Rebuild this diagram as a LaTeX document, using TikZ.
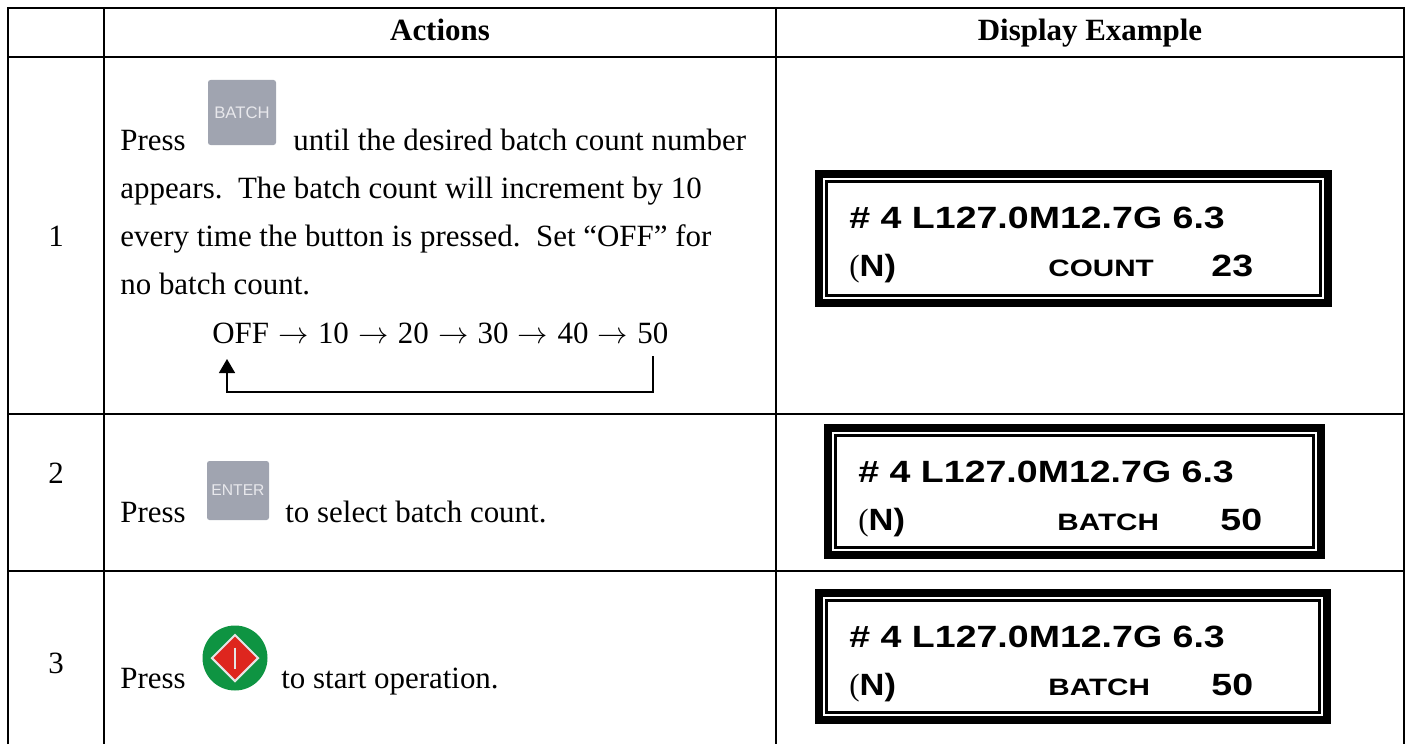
\documentclass[tikz,border=0pt]{standalone}
\usepackage{fontspec}
\setmainfont{Liberation Serif}
\newfontfamily\lcdfont{Liberation Sans}
\usetikzlibrary{arrows.meta, positioning, shapes.geometric}

\definecolor{keygrey}{RGB}{160,164,176}
\definecolor{keytext}{RGB}{232,232,236}
\definecolor{startgreen}{RGB}{14,148,66}
\definecolor{startred}{RGB}{222,38,30}
\tikzset{
  cell/.style={anchor=base west, inner sep=0pt, font=\fontsize{17.6}{20}\selectfont},
  rownum/.style={anchor=base, inner sep=0pt, font=\fontsize{17.6}{20}\selectfont},
  head/.style={anchor=base, inner sep=0pt, font=\fontsize{17.6}{20}\selectfont\bfseries},
  rule/.style={black, line width=0.04cm},
  keycap/.style={rectangle, rounded corners=0.05cm, fill=keygrey, inner sep=0pt, text=keytext},
  lcdbig/.style={anchor=base west, inner sep=0pt, xscale=1.22, font=\fontsize{17.5}{18}\lcdfont\bfseries},
  lcdsmall/.style={anchor=base west, inner sep=0pt, xscale=1.25, font=\fontsize{13.5}{18}\lcdfont\bfseries},
}

\newcommand{\cyclearrow}{\hspace{0.05em}$\rightarrow$\hspace{0.05em}}
\newcommand{\lcdbox}[7]{
  \draw[black, line width=0.16cm] (#1+0.08,#2+0.08) rectangle (#3-0.08,#4-0.08);
  \draw[black, line width=0.05cm] (#1+0.23,#2+0.23) rectangle (#3-0.23,#4-0.23);
  \node[lcdbig] (#7a) at (#1+0.68,#4-1.16) {\# 4 L127.0M12.7G 6.3};
  \node[cell] (#7b) at (#1+0.68,#4-2.13) {(\scalebox{1.12}[1]{\fontsize{17.5}{18}\lcdfont\bfseries N)}};
  \node[lcdsmall] (#7c) at (#1+4.66,#4-2.13) {#5};
  \node[lcdbig] (#7d) at (#1+7.92,#4-2.13) {#6};
}

\begin{document}
\begin{tikzpicture}
\useasboundingbox (0,0) rectangle (28.16,14.88);

% table rules
\draw[rule] (0.16,0) -- (0.16,14.72) -- (28.07,14.72) -- (28.07,0);
\draw[rule] (2.08,14.72) -- (2.08,0);
\draw[rule] (15.52,14.72) -- (15.52,0);
\draw[rule] (0.16,13.73) -- (28.07,13.73);
\draw[rule] (0.16,6.61) -- (28.07,6.61);
\draw[rule] (0.16,3.47) -- (28.07,3.47);

% header
\node[head] (actions) at (8.8,14.06) {Actions};
\node[head] (display) at (21.8,14.06) {Display Example};

% row numbers
\node[rownum] (one) at (1.12,9.96) {1};
\node[rownum] (two) at (1.12,5.22) {2};
\node[rownum] (three) at (1.12,1.42) {3};

% row 1
\node[cell] (press1) at (2.4,11.88) {Press};
\node[keycap, minimum width=1.36cm, minimum height=1.3cm, font=\fontsize{9.5}{10}\lcdfont] (batchkey) at (4.84,12.63) {BATCH};
\node[cell] (until) at (5.86,11.88) {until the desired batch count number};
\node[cell] (appears) at (2.4,10.915) {appears.\ \ The batch count will increment by 10};
\node[cell] (every) at (2.4,9.95) {every time the button is pressed.\ \ Set “OFF” for};
\node[cell] (nobatch) at (2.4,8.985) {no batch count.};
\node[cell] (cycle) at (4.24,8.02) {OFF \cyclearrow{} 10 \cyclearrow{} 20 \cyclearrow{} 30 \cyclearrow{} 40 \cyclearrow{} 50};
\coordinate (loopstart) at (13.06,7.76);
\coordinate (loopend) at (4.54,7.70);
\draw[black, line width=0.03cm, -{Triangle[length=0.28cm, width=0.32cm]}] (loopstart) |- (4.54,7.04) -- (loopend);

% row 2
\node[cell] (press2) at (2.4,4.44) {Press};
\node[keycap, minimum width=1.24cm, minimum height=1.18cm, font=\fontsize{8.9}{10}\lcdfont] (enterkey) at (4.76,5.07) {ENTER};
\node[cell] (select) at (5.7,4.44) {to select batch count.};

% row 3
\node[cell] (press3) at (2.4,1.12) {Press};
\node[circle, fill=startgreen, minimum size=1.3cm, inner sep=0pt] (startkey) at (4.7,1.72) {};
\node[diamond, aspect=1, fill=startred, draw=white!90!black, line width=0.04cm, minimum size=0.94cm, inner sep=0pt] (startsign) at (startkey) {};
\draw[white!90!black, line width=0.03cm] (startsign.center) ++(0,0.21) -- ++(0,-0.42);
\node[cell] (tostart) at (5.62,1.12) {to start operation.};

% displays
\lcdbox{16.30}{8.74}{26.64}{11.48}{COUNT}{23}{lcdone}
\lcdbox{16.48}{3.70}{26.50}{6.40}{BATCH}{50}{lcdtwo}
\lcdbox{16.30}{0.40}{26.62}{3.10}{BATCH}{50}{lcdthree}
\end{tikzpicture}
\end{document}
